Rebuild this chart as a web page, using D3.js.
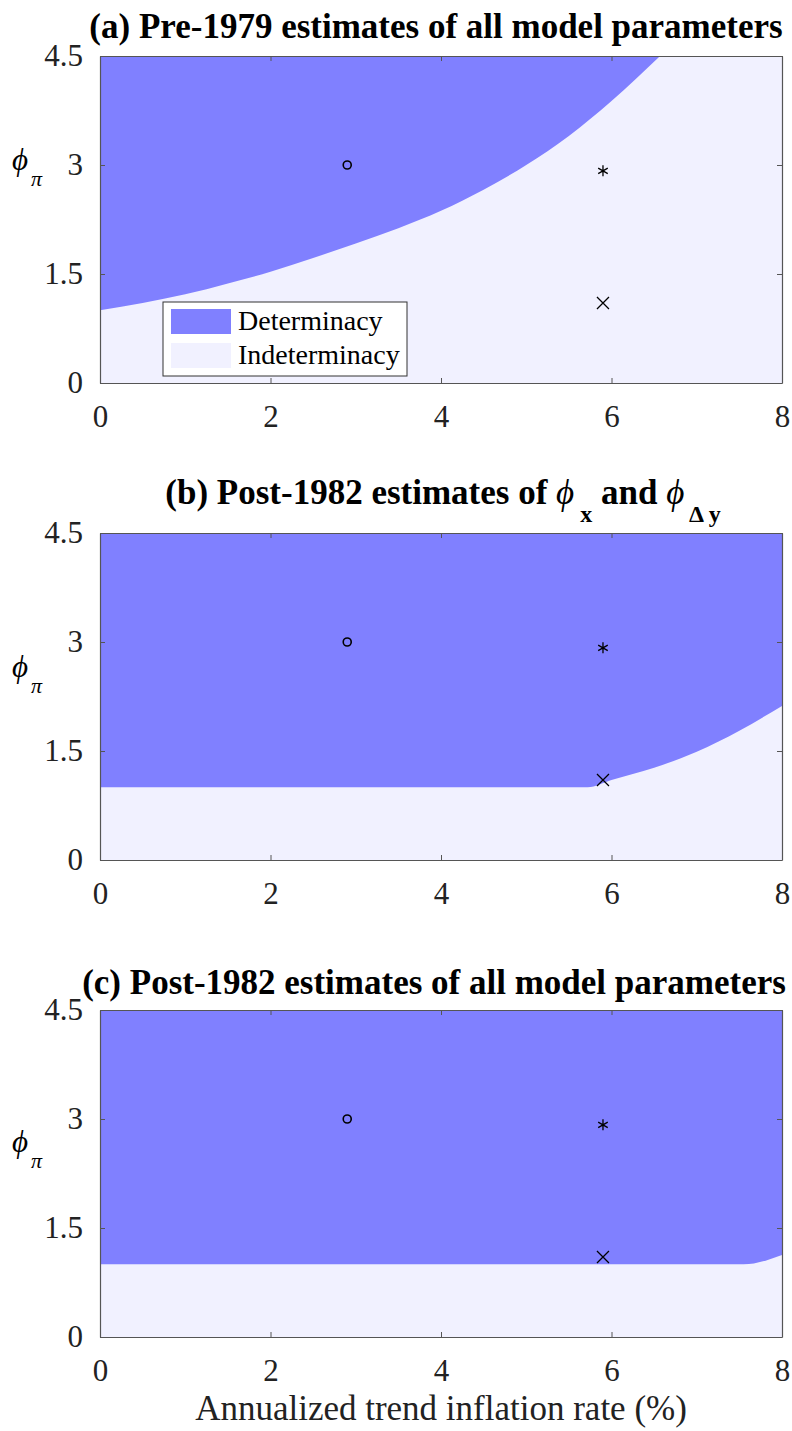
<!DOCTYPE html>
<html>
<head>
<meta charset="utf-8">
<script src="https://cdn.jsdelivr.net/npm/d3@7"></script>
<style>
  body { margin: 0; background: #fff; }
  text { font-family: "Liberation Serif", "Times New Roman", serif; fill: #000; }
</style>
</head>
<body>
<svg id="chart" width="792" height="1431"></svg>
<script>
// boundary of the determinacy region, [trend inflation, phi_pi]
var boundaryA = [[0, 1.0], [0.5, 1.1], [1, 1.22], [1.5, 1.37], [2, 1.53], [2.5, 1.72], [3, 1.92],
                 [3.5, 2.13], [4, 2.37], [4.5, 2.66], [5, 3.0], [5.5, 3.4], [6, 3.88], [6.57, 4.5]];
var boundaryB = [[0, 1.0], [5.72, 1.0], [6, 1.1], [6.5, 1.27], [7, 1.49], [7.5, 1.78], [8, 2.12]];
var boundaryC = [[0, 1.0], [7.55, 1.0], [8, 1.13]];

// estimates
var circleMark = [2.9, 3.0];
var starMark = [5.9, 2.92];
var crossMark = [5.9, 1.1];

var xTicks = [0, 2, 4, 6, 8];
var yTicks = [0, 1.5, 3, 4.5];
var legendLabels = ["Determinacy", "Indeterminacy"];
var xLabel = "Annualized trend inflation rate (%)";

var detColor = "#8080ff", indetColor = "#f1f1ff";

var svg = d3.select("#chart");
var left = 100, right = 782, plotH = 327;

var panels = [
  {top: 56, data: boundaryA, titleX: 436, titleY: 38, phiY: 170, legend: true,
   title: [{t: "(a) Pre-1979 estimates of all model parameters"}]},
  {top: 533, data: boundaryB, titleX: 443, titleY: 504, phiY: 677, legend: false,
   title: [{t: "(b) Post-1982 estimates of "}, {t: "\u03d5", phi: true}, {t: " x", sub: true},
           {t: " and "}, {t: "\u03d5", phi: true}, {t: " \u0394 y", sub: true}]},
  {top: 1010, data: boundaryC, titleX: 434, titleY: 994, phiY: 1152, legend: false,
   title: [{t: "(c) Post-1982 estimates of all model parameters"}]}
];

var x = d3.scaleLinear().domain([0, 8]).range([left, right]);

panels.forEach(function(p, i) {
  var y = d3.scaleLinear().domain([0, 4.5]).range([p.top + plotH, p.top]);
  var g = svg.append("g");

  g.append("clipPath").attr("id", "clip" + i)
    .append("rect").attr("x", left).attr("y", p.top).attr("width", right - left).attr("height", plotH);

  g.append("rect")
    .attr("x", left).attr("y", p.top).attr("width", right - left).attr("height", plotH)
    .style("fill", indetColor);

  var area = d3.area()
    .x(function(d) { return x(d[0]); })
    .y0(y(4.5))
    .y1(function(d) { return y(d[1]); })
    .curve(d3.curveMonotoneX);

  g.append("path").datum(p.data)
    .attr("clip-path", "url(#clip" + i + ")")
    .attr("d", area)
    .style("fill", detColor);

  // axes, box style with inward ticks
  var ax = g.append("g").attr("class", "axes");
  ax.append("g").attr("transform", "translate(0," + (p.top + plotH) + ")")
    .call(d3.axisBottom(x).tickValues(xTicks).tickFormat(d3.format("d")).tickSizeInner(-5).tickSizeOuter(0).tickPadding(22));
  ax.append("g").attr("transform", "translate(0," + p.top + ")")
    .call(d3.axisTop(x).tickValues(xTicks).tickFormat("").tickSizeInner(-5).tickSizeOuter(0));
  ax.append("g").attr("transform", "translate(" + left + ",0)")
    .call(d3.axisLeft(y).tickValues(yTicks).tickFormat(function(d) { return d; }).tickSizeInner(-5).tickSizeOuter(0).tickPadding(17));
  ax.append("g").attr("transform", "translate(" + right + ",0)")
    .call(d3.axisRight(y).tickValues(yTicks).tickFormat("").tickSizeInner(-5).tickSizeOuter(0));
  ax.selectAll("path.domain").style("stroke", "#555").style("stroke-width", 1.2);
  ax.selectAll(".tick line").style("stroke", "#555");
  ax.selectAll(".tick text").style("font-size", "31px").style("font-family", "Liberation Serif").style("fill", "#222");

  // markers
  var cm = g.append("g").style("stroke", "#000").style("fill", "none").style("stroke-width", 1.6);
  cm.append("circle").attr("cx", x(circleMark[0])).attr("cy", y(circleMark[1])).attr("r", 4);
  var sx = x(starMark[0]), sy = y(starMark[1]), r = 5.5;
  cm.append("path").style("stroke-width", 1.3)
    .attr("d", "M" + sx + "," + (sy - r) + "L" + sx + "," + (sy + r) +
               "M" + (sx - r * 0.87) + "," + (sy - r * 0.5) + "L" + (sx + r * 0.87) + "," + (sy + r * 0.5) +
               "M" + (sx - r * 0.87) + "," + (sy + r * 0.5) + "L" + (sx + r * 0.87) + "," + (sy - r * 0.5));
  var cx = x(crossMark[0]), cy = y(crossMark[1]), c = 6;
  cm.append("path").style("stroke-width", 1.3)
    .attr("d", "M" + (cx - c) + "," + (cy - c) + "L" + (cx + c) + "," + (cy + c) +
               "M" + (cx - c) + "," + (cy + c) + "L" + (cx + c) + "," + (cy - c));

  // title
  var t = g.append("text").attr("x", p.titleX).attr("y", p.titleY)
    .attr("text-anchor", "middle").style("font-size", "35px").style("font-weight", "bold");
  var lowered = false;
  p.title.forEach(function(s) {
    var ts = t.append("tspan").text(s.t);
    if (s.phi) ts.style("font-weight", "normal").style("font-style", "italic");
    if (s.sub) { ts.attr("dy", 18).style("font-size", "24px"); lowered = true; }
    else if (lowered) { ts.attr("dy", -18); lowered = false; }
  });

  // y label
  var yl = g.append("text").attr("x", 12).attr("y", p.phiY);
  yl.append("tspan").text("\u03d5").style("font-style", "italic").style("font-size", "31px");
  yl.append("tspan").text("\u03c0").attr("dy", 16).style("font-style", "italic").style("font-size", "22px").attr("dx", 3);

  // legend
  if (p.legend) {
    var lg = g.append("g").attr("transform", "translate(163,302)");
    lg.append("rect").attr("width", 244).attr("height", 74)
      .style("fill", "#fff").style("stroke", "#333").style("stroke-width", 1);
    legendLabels.forEach(function(l, k) {
      lg.append("rect").attr("x", 8).attr("y", 7 + k * 34).attr("width", 60).attr("height", 25)
        .style("fill", k === 0 ? detColor : indetColor);
      lg.append("text").attr("x", 75).attr("y", 28 + k * 34).text(l).style("font-size", "28px");
    });
  }
});

svg.append("text").attr("x", (left + right) / 2).attr("y", 1420)
  .attr("text-anchor", "middle").style("font-size", "35px").style("fill", "#222").text(xLabel);
</script>
</body>
</html>
